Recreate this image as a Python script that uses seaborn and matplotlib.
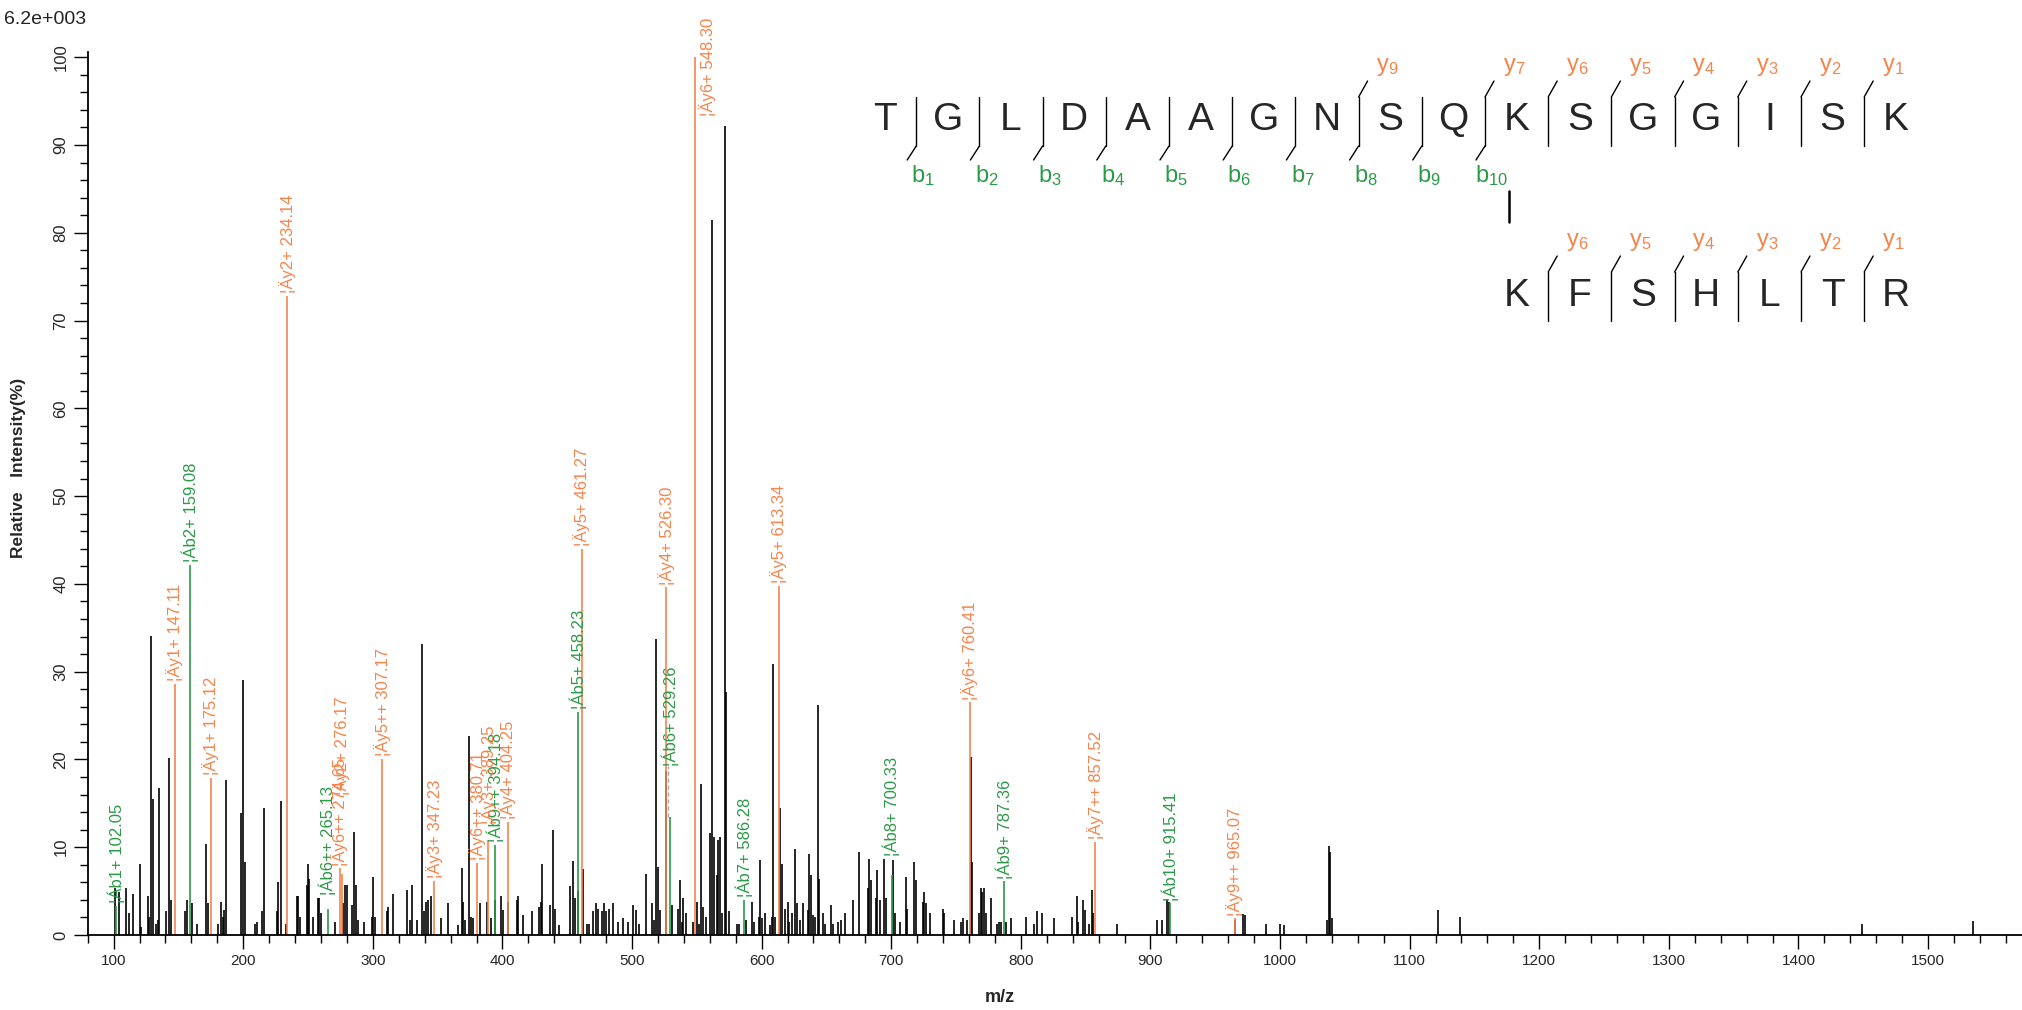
import numpy as np
import pandas as pd
import matplotlib
matplotlib.use("Agg")
import matplotlib.pyplot as plt
import seaborn as sns

# --- unassigned peaks (m/z, relative intensity %) ---
mz_a = [101.2, 104.5, 109.6, 112.2, 114.8, 120.0, 121.2, 126.9, 127.6, 128.9, 130.2, 132.8, 134.1, 135.4,
        140.5, 143.1, 144.4, 155.2, 157.0, 160.3, 164.2, 171.4, 172.7, 180.9, 182.7, 184.2, 185.5, 186.8,
        198.1, 200.2, 201.7, 209.2, 211.0, 214.3, 216.4, 225.9, 227.2, 229.2, 233.1, 241.3, 242.6, 243.9,
        249.0, 250.1, 251.1, 254.2, 257.5, 258.8, 260.1, 270.9, 277.3, 278.6, 279.9, 283.8, 285.6, 287.1,
        288.4, 293.5, 299.2, 300.0, 301.3]
int_a = [5.3, 4.9, 5.3, 2.5, 4.7, 8.1, 0.9, 4.5, 2.1, 34.1, 15.5, 1.3, 1.7, 16.8,
         2.7, 20.2, 4.0, 2.7, 4.0, 3.6, 1.3, 10.4, 3.6, 1.3, 3.8, 2.1, 2.8, 17.7,
         13.9, 29.1, 8.3, 1.3, 1.5, 2.7, 14.5, 2.7, 6.0, 15.3, 1.3, 4.4, 4.5, 2.1,
         5.7, 8.1, 6.4, 2.1, 4.2, 4.2, 2.5, 1.5, 3.6, 5.7, 5.7, 3.4, 11.7, 5.7,
         1.7, 1.5, 2.1, 6.6, 2.1]

mz_b = [310.8, 312.0, 315.4, 326.2, 328.8, 330.6, 333.9, 338.3, 339.6, 341.1, 342.9, 344.7, 352.4, 357.8,
        366.1, 368.6, 369.9, 371.2, 374.5, 375.6, 377.6, 382.8, 388.4, 391.0, 394.4, 398.7, 400.3, 404.6,
        411.1, 412.4, 416.2, 422.6, 428.3, 429.6, 430.9, 436.8, 438.8, 440.6, 444.0, 452.2, 454.8, 456.1,
        458.6, 462.5, 465.6, 466.9, 470.2, 472.3, 474.1, 476.6, 478.4, 479.7, 482.6, 485.1, 489.5, 493.4,
        497.2, 501.1, 503.2, 505.0, 510.9, 515.2, 517.0, 518.6, 520.4, 521.7]
int_b = [2.7, 3.2, 4.7, 5.1, 1.7, 5.7, 1.7, 33.2, 2.7, 3.8, 4.0, 4.5, 1.9, 3.6,
         1.1, 7.6, 3.8, 1.7, 22.7, 2.1, 1.9, 3.6, 3.8, 1.9, 4.0, 4.5, 2.8, 3.8,
         4.0, 4.4, 2.3, 2.7, 3.2, 3.8, 8.1, 3.4, 12.0, 3.0, 1.1, 5.6, 8.4, 4.2,
         5.0, 7.5, 1.3, 1.3, 2.7, 3.6, 3.0, 2.7, 3.6, 2.7, 3.0, 3.6, 1.5, 1.9,
         1.5, 3.4, 2.8, 1.3, 7.0, 3.6, 1.7, 33.7, 7.8, 2.8]

mz_c = [526.6, 530.7, 535.8, 537.1, 538.4, 539.7, 541.8, 547.4, 550.0, 552.0, 553.3, 554.6, 557.2, 560.3,
        561.6, 562.9, 565.4, 566.7, 568.0, 569.5, 571.6, 572.8, 575.2, 580.9, 582.7, 588.1, 592.4, 594.2,
        597.6, 598.9, 600.1, 602.7, 606.1, 607.9, 609.1, 610.4, 614.3, 615.6, 618.1, 620.2, 621.5, 623.3,
        625.9, 627.2, 629.7, 632.3, 635.6, 636.7, 638.0, 639.5, 640.8, 643.4, 644.6, 647.7, 649.0, 653.2,
        654.7, 659.3, 661.1, 664.5, 670.4, 675.5, 681.7, 683.2, 684.5, 688.4, 689.4, 691.0, 694.5, 695.8,
        701.7, 703.0, 706.4, 711.3, 712.5, 717.7, 719.2, 724.4, 725.4, 726.7, 730.0, 739.8, 741.1, 748.5]
int_c = [18.7, 3.4, 3.0, 6.3, 1.5, 4.2, 2.5, 1.5, 3.8, 1.3, 17.2, 3.2, 2.1, 11.6,
         81.5, 11.2, 6.8, 10.8, 11.2, 2.5, 92.2, 27.7, 2.7, 1.3, 1.3, 1.7, 3.8, 1.5,
         2.1, 8.5, 1.9, 2.5, 1.1, 2.1, 30.9, 2.1, 14.5, 8.1, 3.0, 3.8, 1.5, 2.5,
         9.8, 3.6, 1.7, 3.6, 2.8, 9.2, 6.8, 2.3, 2.1, 26.2, 6.4, 2.5, 1.3, 3.4,
         1.3, 1.5, 1.7, 2.5, 4.0, 9.5, 5.3, 8.7, 6.3, 4.2, 7.4, 4.0, 8.7, 4.2,
         8.5, 2.5, 1.5, 6.6, 3.0, 8.3, 6.3, 3.8, 4.9, 3.6, 2.5, 3.0, 2.5, 1.7]

mz_d = [753.6, 755.2, 758.8, 761.3, 762.6, 768.0, 769.1, 770.3, 771.9, 773.2, 776.8, 781.9, 783.5, 784.8,
        788.6, 792.2, 804.0, 810.2, 812.8, 816.6, 825.9, 839.8, 843.1, 844.4, 848.3, 849.6, 852.9, 854.7,
        856.0, 874.5, 905.2, 909.0, 912.9, 914.0, 965.4, 971.8, 973.1, 989.0, 1000.1, 1002.7, 1036.1, 1037.4,
        1038.7, 1040.0, 1121.8, 1138.7, 1449.0, 1534.8]
int_d = [1.5, 1.9, 1.7, 20.3, 8.3, 2.5, 5.3, 4.9, 5.3, 2.5, 4.2, 1.3, 1.5, 1.5,
         1.5, 1.9, 2.1, 1.3, 2.7, 2.5, 1.9, 2.1, 4.5, 1.5, 4.0, 2.8, 1.3, 5.1,
         2.5, 1.3, 1.7, 1.7, 4.0, 3.8, 1.7, 2.4, 2.3, 1.3, 1.3, 1.1, 1.7, 10.1,
         9.4, 1.9, 2.8, 2.1, 1.2, 1.6]

# --- matched b ions ---
b_mz = [102.05, 159.08, 265.13, 394.18, 458.23, 529.26, 586.28, 700.33, 787.36, 915.41]
b_int = [3.3, 42.2, 3.0, 10.3, 25.4, 13.4, 4.0, 6.8, 6.1, 3.6]
b_names = ["b1+", "b2+", "b6++", "b9++", "b5+", "b6+", "b7+", "b8+", "b9+", "b10+"]

# --- matched y ions ---
y_mz = [147.11, 175.12, 234.14, 274.65, 276.17, 307.17, 347.23, 380.71, 389.25, 404.25,
        461.27, 526.30, 548.30, 613.34, 760.41, 857.52, 965.07]
y_int = [28.6, 17.9, 72.8, 7.6, 7.0, 20.1, 6.2, 8.2, 10.8, 12.9,
         44.0, 39.6, 100.0, 39.8, 26.5, 10.6, 1.9]
y_names = ["y1+", "y1+", "y2+", "y6++", "y2+", "y5++", "y3+", "y6++", "y3+", "y4+",
           "y5+", "y4+", "y6+", "y5+", "y6+", "y7++", "y9++"]

# labels pushed up by the annotation layout (m/z -> label base %)
label_lift = {265.13: 4.3, 276.17: 15.6, 389.25: 12.3, 529.26: 18.9, 700.33: 8.7}

# peptide sequences
pep1 = list("TGLDAAGNSQKSGGISK")
pep2 = list("KFSHLTR")
max_abs = "6.2e+003"

ORANGE = "#F5844C"
GREEN = "#2B9A48"
FONT = ["Liberation Sans", "DejaVu Sans"]

sns.set_theme(style="ticks")
plt.rcParams["font.family"] = FONT
plt.rcParams["mathtext.fontset"] = "custom"
plt.rcParams["mathtext.rm"] = "Liberation Sans"
plt.rcParams["mathtext.it"] = "Liberation Sans"

peaks = pd.DataFrame({"mz": mz_a + mz_b + mz_c + mz_d,
                      "inten": int_a + int_b + int_c + int_d})
ions = pd.concat([
    pd.DataFrame({"mz": b_mz, "inten": b_int, "name": b_names, "kind": "b"}),
    pd.DataFrame({"mz": y_mz, "inten": y_int, "name": y_names, "kind": "y"}),
], ignore_index=True)

W, H = 2022, 1010
fig = plt.figure(figsize=(W / 100, H / 100), dpi=100)
ax = fig.add_axes([87.7 / W, 1 - 935 / H, 1 - 87.7 / W, (935 - 52) / H])

ax.vlines(peaks["mz"], 0, peaks["inten"], color="black", lw=1.2)
for kind, col in [("b", GREEN), ("y", ORANGE)]:
    sub = ions[ions["kind"] == kind]
    ax.vlines(sub["mz"], 0, sub["inten"], color=col, lw=1.2)

prefix = {"b": "\u00a6\u00c1", "y": "\u00a6\u00c4"}
for _, r in ions.iterrows():
    col = GREEN if r["kind"] == "b" else ORANGE
    txt = f"{prefix[r['kind']]}{r['name']} {r['mz']:.2f}"
    base = label_lift.get(r["mz"], r["inten"]) + 0.3
    x = r["mz"]
    if r["mz"] == 548.30:
        base, x = 93.3, r["mz"] + 10
    ax.text(x, base, txt, rotation=90, ha="center", va="bottom", color=col,
            fontsize=12, clip_on=False)
    if r["mz"] == 529.26:
        ax.vlines(r["mz"] - 1.5, r["inten"], base, color="#aaaaaa", lw=1, linestyles=(0, (3, 2)))

ax.set_xlim(80, 1572.5)
ax.set_ylim(0, 100.6)
ax.set_xticks(np.arange(100, 1501, 100))
ax.set_xticks(np.arange(80, 1572, 20), minor=True)
ax.set_yticks(np.arange(0, 101, 10))
ax.set_yticks(np.arange(0, 101, 2), minor=True)
ax.tick_params(axis="x", which="major", length=10, width=1, color="black", labelsize=11, pad=4)
ax.tick_params(axis="y", which="major", length=10, width=1, color="black", labelsize=12, pad=4)
ax.tick_params(axis="both", which="minor", length=6, width=1, color="black")
for lab in ax.get_yticklabels():
    lab.set_rotation(90)
    lab.set_va("center")
sns.despine(ax=ax)
for side in ["left", "bottom"]:
    ax.spines[side].set_linewidth(1.3)
    ax.spines[side].set_color("black")

fig.text(4 / W, 1 - 20 / H, max_abs, fontsize=14, color="#222222", va="center", ha="left")
fig.text(19 / W, 1 - 468 / H, "Relative   Intensity(%)", rotation=90, fontsize=12.5,
         fontweight="bold", ha="center", va="center")
fig.text(1000 / W, 1 - 997 / H, "m/z", fontsize=13, fontweight="bold", ha="center", va="center")

# --- peptide fragmentation map (figure pixel space) ---
ov = fig.add_axes([0, 0, 1, 1], facecolor="none")
ov.set_xlim(0, W)
ov.set_ylim(H, 0)
ov.axis("off")
x0, step = 884.6, 63.2
n1 = len(pep1)
for i, aa in enumerate(pep1):
    ov.text(x0 + step * i, 120, aa, ha="center", va="center", fontsize=28)
for j in range(1, n1):
    xs = x0 + step * (j - 0.5)
    ov.plot([xs, xs], [97, 146], color="black", lw=1)
    if j <= 10:
        ov.plot([xs, xs - 9], [146, 160], color="black", lw=1)
        ov.text(xs + 7, 176, rf"$\mathrm{{b}}_{{{j}}}$", color=GREEN, fontsize=17, ha="center", va="center")
    if j == 8 or j >= 10:
        ov.plot([xs, xs + 9], [97, 81], color="black", lw=1)
        ov.text(xs + 29, 67, rf"$\mathrm{{y}}_{{{n1 - j}}}$", color=ORANGE, fontsize=17, ha="center", va="center")
# crosslink
ov.plot([x0 + step * 10 - 8] * 2, [191, 222], color="black", lw=1.8)
n2 = len(pep2)
for i, aa in enumerate(pep2):
    ov.text(x0 + step * (10 + i), 296, aa, ha="center", va="center", fontsize=28)
for j in range(1, n2):
    xs = x0 + step * (10 + j - 0.5)
    ov.plot([xs, xs], [272, 321], color="black", lw=1)
    ov.plot([xs, xs + 9], [272, 256], color="black", lw=1)
    ov.text(xs + 29, 242, rf"$\mathrm{{y}}_{{{n2 - j}}}$", color=ORANGE, fontsize=17, ha="center", va="center")

fig.savefig("out.png", dpi=100)
